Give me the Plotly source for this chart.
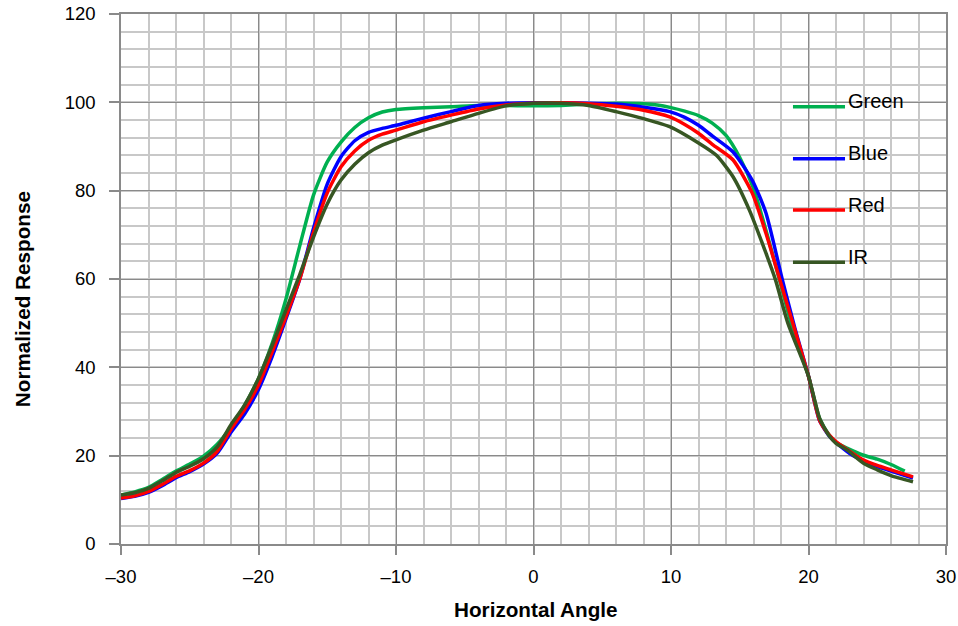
import plotly.graph_objects as go

green_x = [-30, -29, -28, -27, -26, -25, -24, -23, -22, -21, -20, -19, -18, -17, -16, -15, -14, -13, -12, -11, -10, -8, -6, -4, -2, 0, 2, 4, 6, 8, 9, 10, 11, 12, 13, 14, 15, 16, 17, 18, 19, 20, 20.8, 21.5, 22, 22.8, 24, 25, 26, 27]
green_y = [11.1, 11.8, 12.8, 14.6, 16.5, 18.1, 19.9, 22.6, 26.5, 31.5, 37.5, 45.5, 55.5, 67.5, 79, 86.5, 91, 94.3, 96.5, 97.8, 98.4, 98.8, 99.0, 99.3, 99.3, 99.2, 99.3, 99.6, 99.8, 99.7, 99.4, 98.8, 98, 97, 95.3, 92.5, 87.5, 80.5, 70, 58.5, 47, 38, 28.5, 24.7, 23, 21.7, 20.1, 19.2, 18, 16.5]

blue_x = [-30, -29, -28, -27, -26, -25, -24, -23, -22, -21, -20, -19, -18, -17, -16, -15, -14, -13, -12, -11, -10, -9, -8, -6, -4, -2, 0, 2, 4, 6, 8, 9.9, 11, 12, 13, 14.5, 15.9, 16.9, 18.1, 19, 20, 20.8, 21.5, 22, 23, 24, 25, 26, 27.6]
blue_y = [10.3, 10.8, 11.7, 13.2, 15.0, 16.4, 18.1, 20.6, 25.3, 29.5, 35, 42.5, 51, 60, 71.5, 81.5, 87.7, 91.3, 93.2, 94.1, 94.8, 95.6, 96.4, 97.9, 99.3, 99.8, 99.9, 99.9, 99.8, 99.6, 98.9, 97.9, 96.6, 94.8, 92.4, 88.8, 82.4, 75, 59.8, 49, 38, 28, 24.5, 23, 20.5, 18.8, 17.5, 16.5, 14.9]

red_x = [-30, -29, -28, -27, -26, -25, -24, -23, -22, -21, -20, -19, -18, -17, -16, -15, -14, -13, -12, -11, -10, -8, -6, -4, -2, 0, 2, 4, 6, 8, 9.9, 11, 12, 13, 14.5, 15.9, 16.9, 17.9, 19, 20, 20.8, 21.5, 22, 23, 24, 25, 26, 27.6]
red_y = [10.4, 10.9, 11.9, 13.5, 15.3, 16.6, 18.3, 21, 26, 30.5, 36, 43.5, 51.5, 60, 70.5, 79.5, 85.4, 89, 91.4, 92.8, 93.7, 95.6, 97.1, 98.5, 99.4, 99.8, 99.9, 99.7, 99.1, 98.2, 96.7, 95, 93, 90.5, 87, 79.5, 70.4, 60, 48.5, 38, 28, 24.7, 23.2, 21, 19, 17.8, 16.8, 15.2]

ir_x = [-30, -29, -28, -27, -26, -25, -24, -23, -22, -21, -20, -19, -18, -17, -16, -15, -14, -13, -12, -11, -10, -8, -6, -4, -2, 0, 2, 4, 6, 8, 9.9, 12, 13.3, 14.5, 15.7, 16.9, 17.6, 18.5, 20, 20.8, 21.5, 22, 22.8, 24, 25, 26, 27.6]
ir_y = [11.1, 11.6, 12.6, 14.3, 16.2, 17.6, 19.3, 22, 27, 31.5, 37.5, 45, 53, 61, 69.5, 77, 82.4, 86, 88.6, 90.3, 91.5, 93.7, 95.6, 97.5, 99.2, 99.8, 99.8, 99.3, 97.9, 96.3, 94.5, 90.8, 88, 83.2, 75.6, 65.9, 59.8, 50, 38, 28.5, 24.5, 22.8, 21.3, 18.3, 16.8, 15.5, 14.1]

series_names = ["Green", "Blue", "Red", "IR"]
series_colors = ["#00B050", "#0000FF", "#FF0000", "#375623"]

x_tick_vals = [-30, -20, -10, 0, 10, 20, 30]
x_tick_text = ["–30", "–20", "–10", "0", "10", "20", "30"]
y_tick_vals = [0, 20, 40, 60, 80, 100, 120]

x_title = "Horizontal Angle"
y_title = "Normalized Response"

data = [(green_x, green_y), (blue_x, blue_y), (red_x, red_y), (ir_x, ir_y)]

fig = go.Figure()
for (xs, ys), name, col in zip(data, series_names, series_colors):
    fig.add_trace(go.Scatter(x=xs, y=ys, mode="lines", name=name,
                             line=dict(color=col, width=3.5, shape="spline", smoothing=0.6),
                             showlegend=False, hoverinfo="skip"))

font_family = "Liberation Sans, Arial, sans-serif"

# manual legend (lines + labels) placed inside plot area
leg_line_y = [0.8251, 0.727, 0.6302, 0.5315]
leg_text_y = [0.8364, 0.7383, 0.6396, 0.5415]
for name, col, ly, ty in zip(series_names, series_colors, leg_line_y, leg_text_y):
    fig.add_shape(type="line", xref="paper", yref="paper", x0=0.8145, x1=0.8776, y0=ly, y1=ly,
                  line=dict(color=col, width=3.5))
    fig.add_annotation(xref="paper", yref="paper", x=0.8785, y=ty, text=name, showarrow=False,
                       xanchor="left", yanchor="middle",
                       font=dict(size=20, color="black", family=font_family))

# axis titles
fig.add_annotation(xref="paper", yref="paper", x=0.5028, y=-0.1245, text="<b>" + x_title + "</b>",
                   showarrow=False, xanchor="center", yanchor="middle",
                   font=dict(size=20.7, color="black", family=font_family))
fig.add_annotation(xref="paper", yref="paper", x=-0.1192, y=0.4613, text="<b>" + y_title + "</b>",
                   showarrow=False, xanchor="center", yanchor="middle", textangle=-90,
                   font=dict(size=20.7, color="black", family=font_family))

fig.update_layout(
    width=958, height=626,
    margin=dict(l=121, r=12, t=14, b=82, autoexpand=False),
    paper_bgcolor="white", plot_bgcolor="white",
    font=dict(family=font_family, size=18.5, color="black"),
    showlegend=False,
)
fig.update_xaxes(
    range=[-30, 30], tickvals=x_tick_vals, ticktext=x_tick_text,
    showgrid=True, gridcolor="#8a8a8a", gridwidth=1,
    minor=dict(dtick=2, showgrid=True, gridcolor="#c8c8c8", gridwidth=1.5),
    showline=True, linecolor="#8a8a8a", linewidth=1.5, mirror=True,
    ticks="outside", ticklen=9, tickcolor="#8a8a8a", tickwidth=1.5,
    ticklabelstandoff=6,
    zeroline=False, automargin=False,
    tickfont=dict(size=18.5),
)
fig.update_yaxes(
    range=[0, 120], tickvals=y_tick_vals,
    showgrid=True, gridcolor="#8a8a8a", gridwidth=1,
    minor=dict(dtick=4, showgrid=True, gridcolor="#c8c8c8", gridwidth=1.5),
    showline=True, linecolor="#8a8a8a", linewidth=1.5, mirror=True,
    ticks="outside", ticklen=10, tickcolor="#8a8a8a", tickwidth=1.5,
    ticklabelstandoff=10,
    zeroline=False, automargin=False,
    tickfont=dict(size=18.5),
)

fig.write_html("out.html", config={"displayModeBar": False},
               post_script="document.body.style.margin='0px';")
